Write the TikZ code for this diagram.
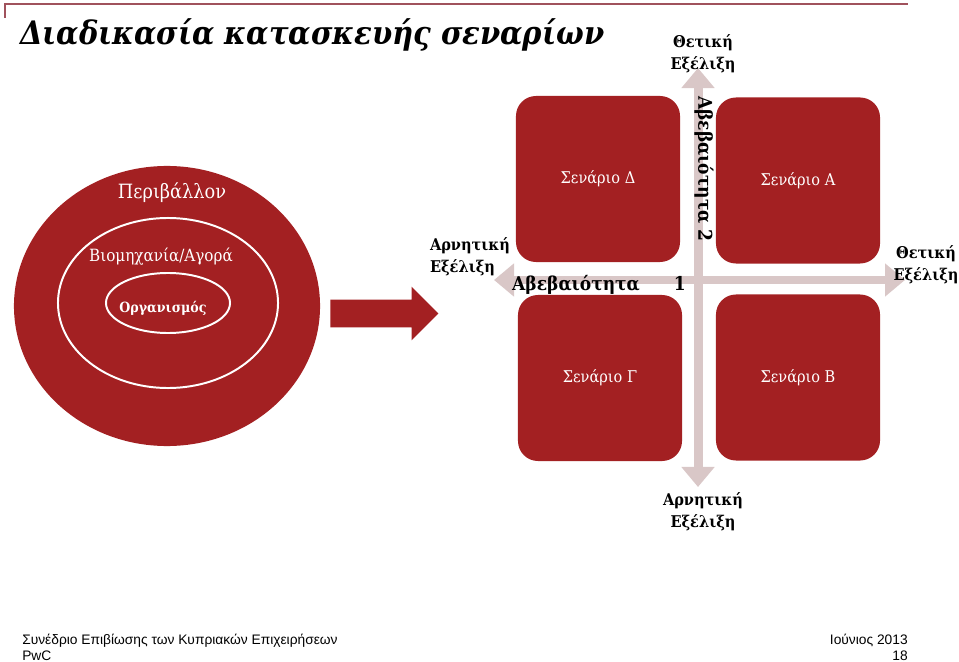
\documentclass[tikz,border=0pt]{standalone}
\usepackage{fontspec}
\setmainfont{DejaVu Serif Condensed}
\setsansfont{Liberation Sans}
\usepackage{tikz}
\usetikzlibrary{arrows.meta, shapes.geometric, shapes.arrows}
\definecolor{scred}{RGB}{163,32,34}
\definecolor{axgrey}{RGB}{217,199,199}
\definecolor{topline}{RGB}{160,82,92}

\begin{document}
\begin{tikzpicture}[x=0.025cm, y=-0.025cm,
    axis/.style={draw=axgrey, line width=6.4pt,
        {Triangle[length=0.5cm,width=0.8cm]}-{Triangle[length=0.5cm,width=0.8cm]}}]
    \useasboundingbox (0,0) rectangle (959,662);

    \draw[topline, line width=1.5pt] (5,18) -- (5,4) -- (908,4);
    \node[anchor=base west, inner sep=0, font=\fontsize{23}{26}\selectfont\bfseries\itshape] (title) at (20,45) {Διαδικασία κατασκευής σεναρίων};

    \begin{scope}[every node/.style={ellipse, inner sep=0}]
        \node[fill=scred, minimum width=7.65cm, minimum height=7cm] (env) at (167,306) {};
        \node[draw=white, line width=1.4pt, minimum width=5.5cm, minimum height=4.25cm] (ind) at (168,303) {};
        \node[draw=white, line width=1.4pt, minimum width=3.1cm, minimum height=1.5cm] (org) at (168,303) {};
    \end{scope}

    \begin{scope}[every node/.style={text=white, inner sep=0}]
        \node[font=\fontsize{14}{17}\selectfont] (envtxt) at (172,193) {Περιβάλλον};
        \node[font=\fontsize{12}{14}\selectfont] (indtxt) at (161,257) {Βιομηχανία/Αγορά};
        \node[font=\fontsize{10}{12}\selectfont\bfseries] (orgtxt) at (163,308) {Οργανισμός};
    \end{scope}

    \node[single arrow, fill=scred, inner xsep=0, inner ysep=0.3375cm, anchor=tail,
          minimum height=2.7cm, single arrow head extend=0.325cm] (shift) at (330,313.5) {};

    \begin{scope}[every node/.style={fill=scred, rounded corners=0.5cm, minimum width=4.1cm,
                  minimum height=4.15cm, text=white, font=\fontsize{11.5}{14}\selectfont}]
        \node (scD) at (598,179) {Σενάριο Δ};
        \node (scA) at (798,180.5) {Σενάριο Α};
        \node (scC) at (600,378) {Σενάριο Γ};
        \node (scB) at (798,377.5) {Σενάριο Β};
    \end{scope}

    \coordinate (west) at (494,280);
    \coordinate (east) at (905,280);
    \coordinate (north) at (698,68);
    \coordinate (south) at (698,487);
    \draw[axis] (west) -- (east);
    \draw[axis] (north) -- (south);

    \begin{scope}[every node/.style={inner sep=0, font=\fontsize{13.5}{16}\selectfont\bfseries}]
        \node (unc1) at (599,285) {Αβεβαιότητα\hspace{0.85cm}1};
        \node[rotate=-90] (unc2) at (704,169) {Αβεβαιότητα 2};
    \end{scope}

    \begin{scope}[every node/.style={inner sep=0, align=center, font=\fontsize{11.5}{15.5}\selectfont\bfseries}]
        \node[align=left] (negW) at (470,257) {Αρνητική\\Εξέλιξη};
        \node (posN) at (703,54) {Θετική\\Εξέλιξη};
        \node (posE) at (926,265) {Θετική\\Εξέλιξη};
        \node (negS) at (703,512) {Αρνητική\\Εξέλιξη};
    \end{scope}

    \begin{scope}[every node/.style={inner sep=0, font=\sffamily\fontsize{9.8}{11}\selectfont}]
        \node[anchor=base west] (conf) at (22,644) {Συνέδριο Επιβίωσης των Κυπριακών Επιχειρήσεων};
        \node[anchor=base west] (firm) at (22,660) {PwC};
        \node[anchor=base east] (date) at (908,644) {Ιούνιος 2013};
        \node[anchor=base east] (page) at (908,660) {18};
    \end{scope}
\end{tikzpicture}
\end{document}
